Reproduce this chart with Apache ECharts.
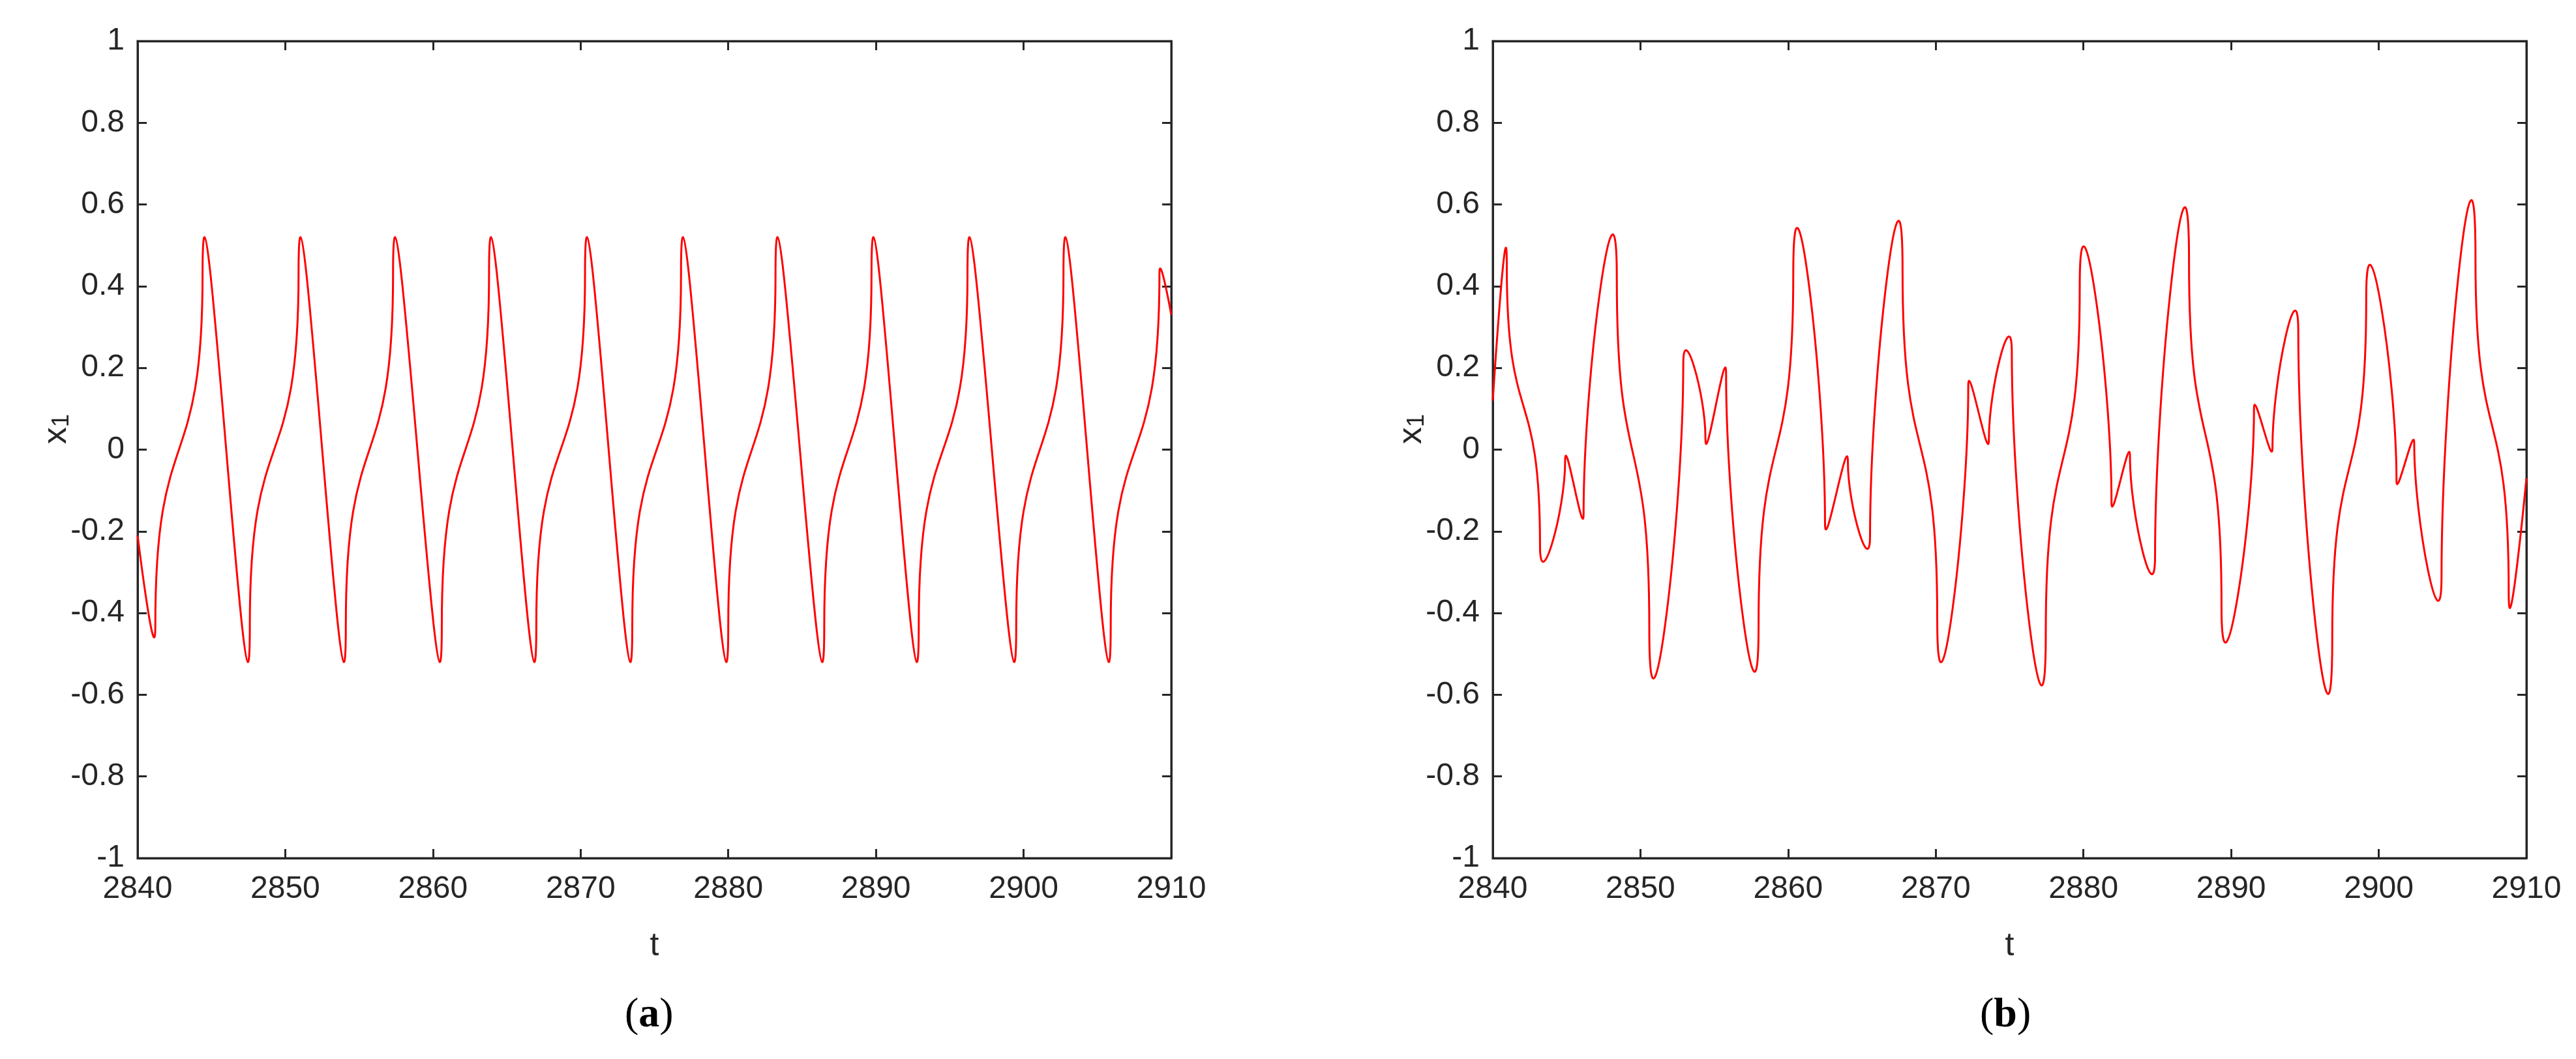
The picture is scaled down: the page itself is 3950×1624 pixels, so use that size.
<!DOCTYPE html>
<html><head><meta charset="utf-8">
<script src="https://cdn.jsdelivr.net/npm/echarts@6/dist/echarts.min.js"></script>
<style>html,body{margin:0;padding:0;background:#fff}#c{width:3950px;height:1624px}</style>
</head><body><div id="c"></div>
<script>
// Panel (a): extremes [t, x1]
const seriesA = [
[2840,-0.21],[2841.2,-0.43],[2844.4,0.43],[2847.6,-0.43],[2850.9,0.43],[2854.1,-0.43],[2857.3,0.43],[2860.6,-0.43],
[2863.8,0.43],[2867.0,-0.43],[2870.3,0.43],[2873.5,-0.43],[2876.8,0.43],[2880.0,-0.43],[2883.2,0.43],[2886.5,-0.43],
[2889.7,0.43],[2892.9,-0.43],[2896.2,0.43],[2899.5,-0.43],[2902.7,0.43],[2905.9,-0.43],[2909.2,0.43],[2910,0.33]];
// Panel (b)
const seriesB = [
[2840,0.12],[2840.95,0.45],[2843.2,-0.236],[2844.9,-0.028],[2846.15,-0.156],[2848.4,0.42],[2850.6,-0.44],
[2852.9,0.21],[2854.4,0.03],[2855.8,0.185],[2858.0,-0.43],[2860.35,0.43],[2862.5,-0.18],[2864.05,-0.032],
[2865.55,-0.21],[2867.75,0.44],[2870.1,-0.415],[2872.2,0.155],[2873.6,0.027],[2875.15,0.238],[2877.45,-0.45],
[2879.75,0.40],[2881.9,-0.128],[2883.15,-0.017],[2884.85,-0.26],[2887.15,0.46],[2889.35,-0.383],[2891.55,0.10],
[2892.8,0.005],[2894.55,0.288],[2896.85,-0.46],[2899.15,0.37],[2901.2,-0.075],[2902.4,0.015],[2904.25,-0.31],
[2906.55,0.467],[2908.8,-0.35],[2910,-0.07]];
const xTicks = [2840,2850,2860,2870,2880,2890,2900,2910];
const yTicks = [-1,-0.8,-0.6,-0.4,-0.2,0,0.2,0.4,0.6,0.8,1];
const panelLabels = ['a','b'];

const axCol = '#262626';
const font = 'Liberation Sans, Arial, sans-serif';
const lefts = [211, 2289];
const grids = [], xAxes = [], yAxes = [], series = [], graphics = [];
[seriesA, seriesB].forEach((d, i) => {
  grids.push({left: lefts[i], top: 63, width: 1585, height: 1253, show: true, borderColor: axCol, borderWidth: 3, backgroundColor:'#fff'});
  const xa = {type:'value', gridIndex:i, min:2840, max:2910, interval:10,
    axisLine:{show:true,onZero:false,lineStyle:{color:axCol,width:3}},
    axisTick:{show:true,inside:true,length:14,lineStyle:{color:axCol,width:3}},
    splitLine:{show:false}};
  xAxes.push(Object.assign({}, xa, {position:'bottom', name:'t', nameLocation:'middle', nameGap:110,
    nameTextStyle:{fontSize:50,color:axCol,fontFamily:font},
    axisLabel:{fontSize:48,color:axCol,fontFamily:font,margin:24,formatter:v=>xTicks.includes(v)?String(v):''}}));
  xAxes.push(Object.assign({}, xa, {position:'top', axisLabel:{show:false}}));
  const ya = {type:'value', gridIndex:i, min:-1, max:1, interval:0.2,
    axisLine:{show:true,onZero:false,lineStyle:{color:axCol,width:3}},
    axisTick:{show:true,inside:true,length:14,lineStyle:{color:axCol,width:3}},
    splitLine:{show:false}};
  yAxes.push(Object.assign({}, ya, {position:'left',
    axisLabel:{fontSize:48,color:axCol,fontFamily:font,margin:20,
      formatter:v=>{const r=Math.round(v*10)/10; return yTicks.includes(r)?String(r):'';}}}));
  yAxes.push(Object.assign({}, ya, {position:'right', axisLabel:{show:false}}));
  series.push({type:'line', xAxisIndex:2*i, yAxisIndex:2*i, data:d, smooth:0.6, smoothMonotone:'y',
    showSymbol:false, lineStyle:{color:'#ff0000',width:3}, silent:true});
  graphics.push({type:'text', left: lefts[i]-150, top: 635, rotation: Math.PI/2,
    style:{rich:{x:{fontSize:52,fontFamily:font,fill:axCol},s:{fontSize:36,fontFamily:font,fill:axCol,verticalAlign:'bottom'}},
      text:'{x|x}{s|1}', fill:axCol}});
  graphics.push({type:'text', left: lefts[i]+792-45, top: 1525,
    style:{rich:{p:{fontSize:64,fontFamily:'Liberation Serif, serif',fill:'#000'},b:{fontSize:64,fontFamily:'Liberation Serif, serif',fontWeight:'bold',fill:'#000'}},
      text:'{p|(}{b|'+panelLabels[i]+'}{p|)}'}});
});
const chart = echarts.init(document.getElementById('c'));
chart.setOption({animation:false, backgroundColor:'#fff', grid:grids, xAxis:xAxes, yAxis:yAxes, series:series, graphic:graphics});
</script></body></html>
